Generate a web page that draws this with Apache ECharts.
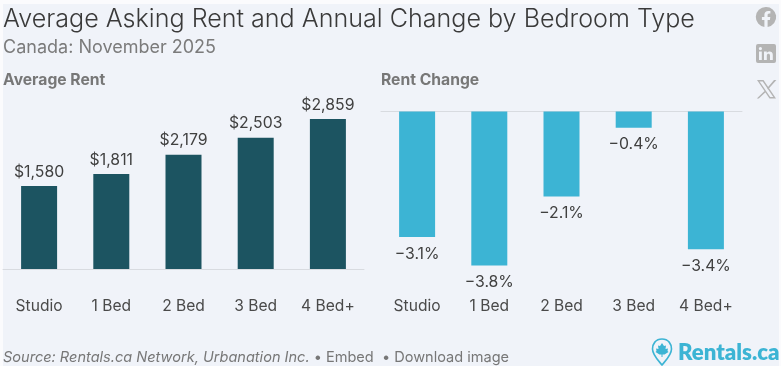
<!DOCTYPE html>
<html><head><meta charset="utf-8">
<style>html,body{margin:0;padding:0;background:#fbfbfd}#c{width:781px;height:366px}</style>
<script src="https://cdn.jsdelivr.net/npm/echarts@6/dist/echarts.min.js"></script>
</head><body><div id="c"></div>
<script>
const categories = ['Studio','1 Bed','2 Bed','3 Bed','4 Bed+'];
const rentValues = [1580,1811,2179,2503,2859];
const changeValues = [-3.1,-3.8,-2.1,-0.4,-3.4];
const FONT = 'Inter';
const icons = {
  pinIcon:'M662 339 C655.5 339 652.5 344 652.5 349 C652.5 355 658 360 662 365 C666 360 671.5 355 671.5 349 C671.5 344 668.5 339 662 339 Z',
  leafIcon:'M662 343 L664 346 L666 345.5 L665.5 349 L668 348.5 L667.5 351 L668.5 352 L664.5 354.5 L662.5 354.5 L662.5 357 L661.5 357 L661.5 354.5 L659.5 354.5 L655.5 352 L656.5 351 L656 348.5 L658.5 349 L658 345.5 L660 346 Z',
  fbIcon:'M766 7 A10 10 0 0 0 764.4 26.9 L764.4 19.9 L761.9 19.9 L761.9 17 L764.4 17 L764.4 14.8 C764.4 12.3 765.9 10.9 768.2 10.9 C769.3 10.9 770.4 11.1 770.4 11.1 L770.4 13.5 L769.2 13.5 C768 13.5 767.6 14.3 767.6 15 L767.6 17 L770.3 17 L769.9 19.9 L767.6 19.9 L767.6 26.9 A10 10 0 0 0 766 7 Z',
  liIcon:'M758 44 L774 44 Q776 44 776 46 L776 61 Q776 63 774 63 L758 63 Q756 63 756 61 L756 46 Q756 44 758 44 Z M759 51.5 L759 60 L761.8 60 L761.8 51.5 Z M760.4 47 A1.6 1.6 0 1 0 760.41 50.2 A1.6 1.6 0 1 0 760.4 47 Z M764 51.5 L764 60 L766.8 60 L766.8 55.5 C766.8 53 770 53 770 55.5 L770 60 L772.8 60 L772.8 54.8 C772.8 50.8 768.3 50.6 766.8 52.9 L766.8 51.5 Z',
  xIcon:'M757 80 L763.5 80 L776 98.5 L769.5 98.5 Z M759.6 81.6 L770.2 97 L773.3 97 L762.7 81.6 Z M774 80 L776.4 80 L768 89.6 L767 88.3 Z M765.3 90.3 L766.3 91.6 L758.8 98.5 L756.8 98.5 Z'
};
Object.keys(icons).forEach(k => echarts.graphic.registerShape(k, echarts.graphic.extendPath(icons[k])));
const chart = echarts.init(document.getElementById('c'), null, {renderer:'canvas'});
const axisLabel = {color:'#4a4a4a',fontFamily:FONT,fontSize:15.6,interval:0};
const lineStyle = {color:'#d8dbe0',width:1};
const heading = {fontFamily:FONT,fontWeight:700,fontSize:15.7,color:'#777777'};
chart.setOption({
  animation:false,
  backgroundColor:'transparent',
  title:[
    {text:'Average Asking Rent and Annual Change by Bedroom Type',left:3,top:7,padding:0,textStyle:{fontFamily:FONT,fontWeight:300,fontSize:25.1,color:'#3a3a3a'}},
    {text:'Canada: November 2025',left:3,top:39,padding:0,textStyle:{fontFamily:FONT,fontWeight:400,fontSize:18,color:'#7b7b7b'}},
    {text:'Average Rent',left:3,top:72,padding:0,textStyle:heading},
    {text:'Rent Change',left:381,top:72,padding:0,textStyle:heading}
  ],
  grid:[
    {left:3,width:361,top:100,height:169},
    {left:381,width:361,top:111.5,height:162}
  ],
  xAxis:[
    {gridIndex:0,type:'category',data:categories,axisLine:{lineStyle},axisTick:{show:false},axisLabel:{...axisLabel,margin:29}},
    {gridIndex:1,type:'category',data:categories,position:'bottom',axisLine:{show:false,onZero:false},axisTick:{show:false},axisLabel:{...axisLabel,margin:25}},
    {gridIndex:1,type:'category',data:categories,position:'top',axisLine:{lineStyle,onZero:false},axisTick:{show:false},axisLabel:{show:false}}
  ],
  yAxis:[
    {gridIndex:0,type:'value',min:0,max:3220,show:false},
    {gridIndex:1,type:'value',min:-4,max:0,show:false}
  ],
  series:[
    {type:'bar',xAxisIndex:0,yAxisIndex:0,data:rentValues,barWidth:36,itemStyle:{color:'#1c5461'},
     label:{show:true,position:'top',distance:6,color:'#404040',fontFamily:FONT,fontSize:15.8,formatter:p=>'$'+p.value.toLocaleString('en-US')}},
    {type:'bar',xAxisIndex:1,yAxisIndex:1,data:changeValues,barWidth:36,itemStyle:{color:'#3cb4d4'},
     label:{show:true,position:'bottom',distance:9,color:'#404040',fontFamily:FONT,fontSize:15.8,formatter:p=>'\u2212'+Math.abs(p.value).toFixed(1)+'%'}}
  ],
  graphic:[
    {type:'rect',z:-10,silent:true,shape:{x:3,y:4,width:776,height:362},style:{fill:'#f0f3f9'}},
    {type:'text',x:3,y:350,z:5,style:{rich:{
        a:{fontFamily:FONT,fontStyle:'italic',fontSize:14.55,fill:'#777777'},
        b:{fontFamily:FONT,fontSize:14.55,fill:'#777777'}},
      text:'{a|Source: Rentals.ca Network, Urbanation Inc.}{b| \u2022 Embed  \u2022 Download image}'}},
    {type:'text',x:678,y:342,z:5,style:{text:'Rentals.ca',fontFamily:'Lato',fontWeight:800,fontSize:22.2,fill:'#3cb4d4'}},
    {type:'pinIcon',z:5,style:{fill:'none',stroke:'#3cb4d4',lineWidth:1.6}},
    {type:'leafIcon',z:5,style:{fill:'#3cb4d4'}},
    {type:'fbIcon',z:5,style:{fill:'#b4b4b4'}},
    {type:'liIcon',z:5,style:{fill:'#b4b4b4'}},
    {type:'xIcon',z:5,style:{fill:'#b4b4b4'}}
  ]
});
</script></body></html>
